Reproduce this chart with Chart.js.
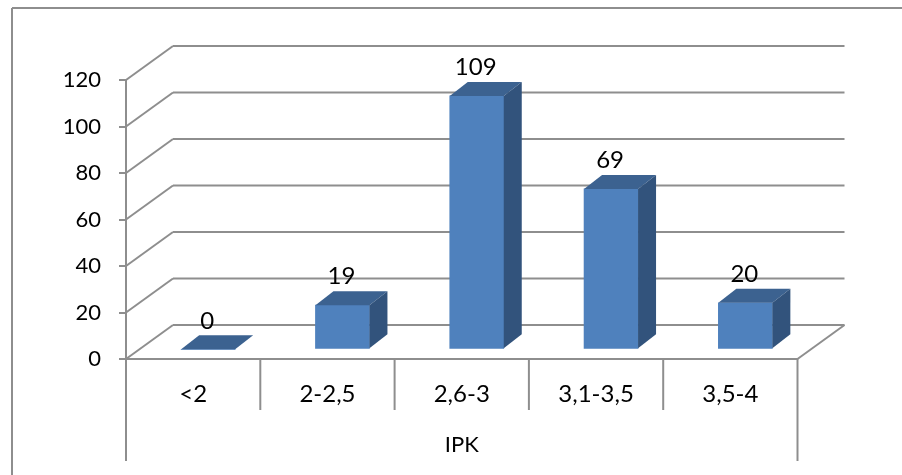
<!DOCTYPE html>
<html>
<head>
<meta charset="utf-8">
<title>IPK</title>
<script src="https://cdn.jsdelivr.net/npm/chart.js@4"></script>
<style>
  html, body { margin: 0; padding: 0; background: #fff; }
  canvas { display: block; }
</style>
</head>
<body>
<canvas id="ipkChart" width="902" height="475"></canvas>
<script>
const categories = ["<2", "2-2,5", "2,6-3", "3,1-3,5", "3,5-4"];
const jumlah = [0, 19, 109, 69, 20];
const axisTitle = "IPK";

const lineColor = "#8e8e8e";
const frontColor = "#4f81bd";
const topColor = "#3c6290";
const sideColor = "#32537c";
const fontName = "Lato";

// depth of the back wall and of each column
const wall = { dx: 47, dy: 34 };
const shift = { x: 15, y: -9.7 };
const depth = { x: 18, y: 14 };

function line(ctx, x1, y1, x2, y2) {
  ctx.beginPath();
  ctx.moveTo(x1, y1);
  ctx.lineTo(x2, y2);
  ctx.stroke();
}

function face(ctx, color, pts) {
  ctx.fillStyle = color;
  ctx.beginPath();
  pts.forEach((p, i) => (i ? ctx.lineTo(p[0], p[1]) : ctx.moveTo(p[0], p[1])));
  ctx.closePath();
  ctx.fill();
}

// frame, walls and floor behind the columns
const wallPlugin = {
  id: "wall",
  beforeDatasetsDraw(chart) {
    const { ctx, scales: { x, y } } = chart;
    ctx.save();
    ctx.strokeStyle = lineColor;
    ctx.lineWidth = 2;

    line(ctx, 12, 8, 902, 8);
    line(ctx, 12, 8, 12, 475);

    y.ticks.forEach((tick) => {
      const py = y.getPixelForValue(tick.value);
      line(ctx, x.left, py, x.left + wall.dx, py - wall.dy);
      line(ctx, x.left + wall.dx, py - wall.dy, x.right + wall.dx, py - wall.dy);
    });
    line(ctx, x.right, y.bottom, x.right + wall.dx, y.bottom - wall.dy);

    // category dividers and the two long outer rules
    const band = x.width / categories.length;
    for (let i = 1; i < categories.length; i++) {
      line(ctx, x.left + band * i, y.bottom, x.left + band * i, 410);
    }
    line(ctx, x.left, y.bottom, x.left, 461);
    line(ctx, x.right, y.bottom, x.right, 461);
    ctx.restore();
  },
  // front faces are pushed back onto the floor
  beforeDatasetDraw(chart) {
    chart.ctx.save();
    chart.ctx.translate(shift.x, shift.y);
  },
  afterDatasetDraw(chart) {
    chart.ctx.restore();
  },
  afterDatasetsDraw(chart) {
    const { ctx } = chart;
    const bars = chart.getDatasetMeta(0).data;
    ctx.save();
    bars.forEach((bar, i) => {
      const left = bar.x - bar.width / 2 + shift.x;
      const right = bar.x + bar.width / 2 + shift.x;
      const top = bar.y + shift.y;
      const bottom = bar.base + shift.y;

      face(ctx, topColor, [[left, top], [right, top], [right + depth.x, top - depth.y], [left + depth.x, top - depth.y]]);
      if (bottom > top) {
        face(ctx, sideColor, [[right, top], [right + depth.x, top - depth.y], [right + depth.x, bottom - depth.y], [right, bottom]]);
      }

      // value above the column
      ctx.fillStyle = "#000";
      ctx.font = "24px " + fontName;
      ctx.textAlign = "center";
      ctx.textBaseline = "middle";
      ctx.fillText(jumlah[i], bar.x + shift.x - 1, top - 28.5);
    });
    ctx.restore();
  }
};

new Chart(document.getElementById("ipkChart"), {
  type: "bar",
  data: {
    labels: categories,
    datasets: [{
      data: jumlah,
      backgroundColor: frontColor,
      borderWidth: 0,
      barThickness: 54,
      clip: false
    }]
  },
  options: {
    responsive: false,
    animation: false,
    layout: { padding: { left: 0, top: 80, right: 104.5, bottom: 0 } },
    plugins: {
      legend: { display: false },
      tooltip: { enabled: false }
    },
    scales: {
      x: {
        afterFit: (scale) => { scale.height = 116; },
        grid: { display: false },
        border: { color: lineColor, width: 2 },
        ticks: { color: "#000", font: { family: fontName, size: 24 }, padding: 13, maxRotation: 0 },
        title: {
          display: true,
          text: axisTitle,
          color: "#000",
          font: { family: fontName, size: 22 },
          padding: { top: 0, bottom: 17 }
        }
      },
      y: {
        min: 0,
        max: 120,
        afterFit: (scale) => { scale.width = 126; },
        grid: { drawOnChartArea: false, color: lineColor, lineWidth: 2, tickLength: 7 },
        border: { color: lineColor, width: 2 },
        ticks: { stepSize: 20, color: "#000", font: { family: fontName, size: 22 }, padding: 18 }
      }
    }
  },
  plugins: [wallPlugin]
});
</script>
</body>
</html>
